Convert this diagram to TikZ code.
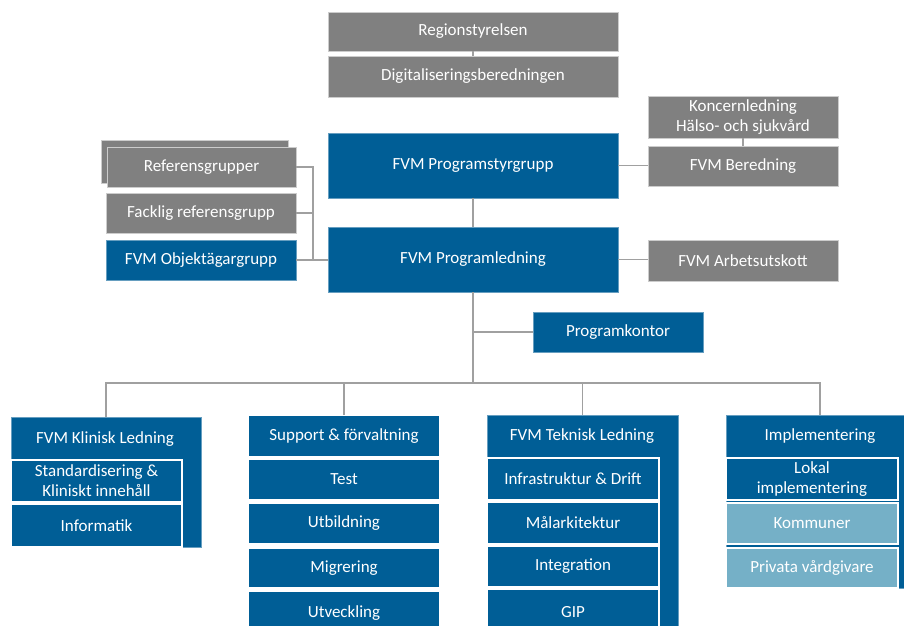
\documentclass[tikz,border=0pt]{standalone}
\usepackage{fontspec}
\setmainfont{Carlito}
\definecolor{dblue}{RGB}{0,94,150}
\definecolor{gbox}{RGB}{128,128,128}
\definecolor{lblue}{RGB}{117,176,199}
\definecolor{conncol}{RGB}{160,160,160}
\newcommand{\bx}[7]{\node[#2, minimum width={#5-#3}, minimum height={#6-#4}] (#1) at ({(#3+#5)/2},{(#4+#6)/2}) {#7};}
\tikzset{
  boxbase/.style={rectangle, inner sep=0pt, outer sep=0pt, text=white, align=center, font=\fontsize{17}{20}\selectfont, draw=white, line width=0.9pt},
  graybox/.style={boxbase, fill=gbox, draw=gray!40},
  bluebox/.style={boxbase, fill=dblue, draw=dblue!60!white},
  innerblue/.style={boxbase, fill=dblue, draw=white, line width=1.3pt},
  lightbox/.style={boxbase, fill=lblue, draw=white, line width=1.3pt},
  headtext/.style={text=white, font=\fontsize{17}{20}\selectfont, inner sep=0pt},
  conn/.style={draw=conncol, line width=1.4pt}
}
\begin{document}
\begin{tikzpicture}[x=1pt,y=-1pt]
\useasboundingbox (0,0) rectangle (904,625);
\clip (0,0) rectangle (904,625);
% top
\bx{reg}{graybox}{328}{12}{618}{51}{Regionstyrelsen}
\bx{dig}{graybox}{328}{56}{618}{97}{Digitaliseringsberedningen}
\bx{psg}{bluebox}{328}{133}{618}{198}{FVM Programstyrgrupp}
\bx{pl}{bluebox}{328}{227}{618}{292}{FVM Programledning}
% left
\bx{refsh}{graybox}{101}{140}{288}{183}{}
\bx{ref}{graybox}{107}{147}{296}{187}{Referensgrupper}
\bx{fack}{graybox}{106}{193}{296}{233}{Facklig referensgrupp}
\bx{obj}{bluebox}{106}{240}{296}{280}{FVM Objektägargrupp}
% right
\bx{kon}{graybox}{648}{96}{838}{138}{Koncernledning\\Hälso- och sjukvård}
\bx{ber}{graybox}{648}{146}{838}{186}{FVM Beredning}
\bx{arb}{graybox}{648}{240}{838}{281}{FVM Arbetsutskott}
\bx{pk}{bluebox}{533}{312}{703}{352}{Programkontor}
% column 1
\bx{c1}{bluebox}{11}{417}{201}{547}{}
\node[headtext] (c1h) at (105,439) {FVM Klinisk Ledning};
\bx{std}{innerblue}{11}{460}{182}{502}{Standardisering \&\\Kliniskt innehåll}
\bx{inf}{innerblue}{11}{504}{182}{547}{Informatik}
% column 2
\bx{c2}{innerblue}{248}{415}{440}{457}{Support \& förvaltning}
\bx{test}{innerblue}{248}{459}{440}{500}{Test}
\bx{utb}{innerblue}{248}{503}{440}{544}{Utbildning}
\bx{mig}{innerblue}{248}{548}{440}{588}{Migrering}
\bx{utv}{innerblue}{248}{591}{440}{635}{Utveckling}
% column 3
\bx{c3}{bluebox}{487}{415}{678}{640}{}
\node[headtext] (c3h) at (582,436) {FVM Teknisk Ledning};
\bx{infra}{innerblue}{487}{458}{659}{500}{Infrastruktur \& Drift}
\bx{mal}{innerblue}{487}{502}{659}{544}{Målarkitektur}
\bx{integ}{innerblue}{487}{546}{659}{587}{Integration}
\bx{gip}{innerblue}{487}{589}{659}{635}{GIP}
% column 4
\bx{c4}{bluebox}{726}{415}{910}{588}{}
\node[headtext] (c4h) at (820,436) {Implementering};
\bx{lok}{innerblue}{726}{458}{898}{500}{Lokal\\implementering}
\bx{kom}{lightbox}{726}{503}{898}{544}{Kommuner}
\bx{priv}{lightbox}{726}{548}{898}{588}{Privata vårdgivare}
% connectors
\coordinate (bx) at (313,0);
\coordinate (busR) at (820,383);
\draw[conn] (reg.south) -- (dig.north);
\draw[conn] (psg.south) -- (pl.north);
\draw[conn] (kon.south) -- (ber.north);
\draw[conn] (psg.east) -- (psg.east -| ber.west);
\draw[conn] (pl.east) -- (pl.east -| arb.west);
\draw[conn] (ref.east) -- (ref.east -| bx) |- (pl.west);
\draw[conn] (fack.east) -- (fack.east -| bx);
\draw[conn] (obj.east) -- (obj.east -| pl.west);
\draw[conn] (pl.south) -- (pl.south |- busR);
\draw[conn] (pk.west) -- (pk.west -| pl.south);
\draw[conn] (c1.north) |- (busR) -- (busR |- c4.north);
\draw[conn] (c2.north) -- (c2.north |- busR);
\draw[conn] (c3.north) -- (c3.north |- busR);
\end{tikzpicture}
\end{document}
